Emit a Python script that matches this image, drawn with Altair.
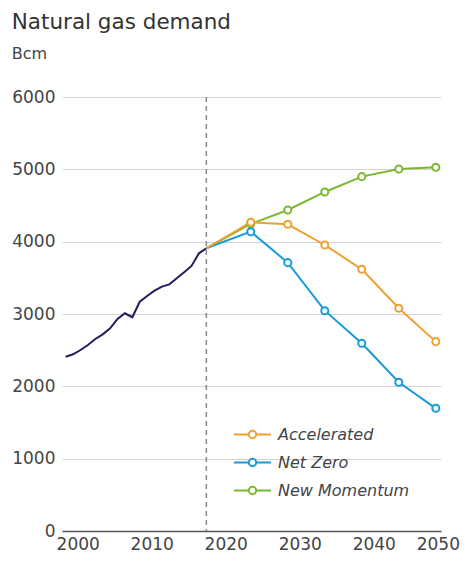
import altair as alt
import pandas as pd

# ---- data ----
hist_years = list(range(2000, 2020))
hist_values = [2410, 2443, 2502, 2571, 2654, 2719, 2802, 2931, 3010, 2955,
               3170, 3249, 3323, 3378, 3410, 3493, 3576, 3664, 3839, 3909]

scen_years = [2019, 2025, 2030, 2035, 2040, 2045, 2050]
accelerated = [3909, 4268, 4240, 3954, 3618, 3079, 2618]
net_zero = [3909, 4138, 3710, 3046, 2595, 2056, 1696]
new_momentum = [3909, 4245, 4438, 4687, 4899, 5005, 5028]

scenario_names = ["Accelerated", "Net Zero", "New Momentum"]
scenario_colors = ["#F0A030", "#1A9ADB", "#7CB82F"]
base_year = [2019]
x_ticks = [2000, 2010, 2020, 2030, 2040, 2050]
y_ticks = [0, 1000, 2000, 3000, 4000, 5000, 6000]

hist = pd.DataFrame({"year": hist_years, "value": hist_values})
rows = []
for name, vals in [("New Momentum", new_momentum), ("Net Zero", net_zero), ("Accelerated", accelerated)]:
    for y, v in zip(scen_years, vals):
        rows.append({"year": y, "value": v, "scenario": name})
scen = pd.DataFrame(rows)
pts = scen[scen["year"] >= 2025]
base = pd.DataFrame({"year": base_year})

FONT = "DejaVu Sans"

x_scale = alt.Scale(domain=[1999.5, 2050.7], nice=False, zero=False)
y_scale = alt.Scale(domain=[0, 6000], nice=False)
color_scale = alt.Scale(domain=scenario_names, range=scenario_colors)

x_axis = alt.Axis(values=x_ticks, format="d", title=None, ticks=False, grid=False,
                  domain=True, domainColor="#555555", domainWidth=1.5,
                  labelFontSize=17, labelColor="#444444", labelFont=FONT,
                  labelOffset=alt.expr("datum.value == 2050 ? 2 : 12"),
                  labelPadding=5, labelFlush=False)
y_axis = alt.Axis(values=y_ticks, format="d", title=None, ticks=False, domain=False,
                  grid=True, gridColor="#d3d3d3", gridWidth=1,
                  labelFontSize=17, labelColor="#444444", labelFont=FONT,
                  labelPadding=7)

hist_line = alt.Chart(hist).mark_line(color="#201D5E", strokeWidth=2).encode(
    x=alt.X("year:Q", scale=x_scale, axis=x_axis),
    y=alt.Y("value:Q", scale=y_scale, axis=y_axis),
)

rule = alt.Chart(base).mark_rule(color="#888888", strokeWidth=1.5, strokeDash=[5, 4]).encode(
    x=alt.X("year:Q", scale=x_scale),
)

legend = alt.Legend(
    title=None, orient="none", legendX=171, legendY=318,
    symbolType="M-1,0H-0.2M0.2,0H1M-0.2,0A0.2,0.2,0,1,1,0.2,0A0.2,0.2,0,1,1,-0.2,0Z",
    symbolSize=1369, symbolStrokeWidth=2, symbolFillColor="white",
    labelFont=FONT, labelFontSize=16, labelFontStyle="italic", labelColor="#444444",
    labelOffset=6, rowPadding=0,
)

scen_lines = alt.Chart(scen).mark_line(strokeWidth=2).encode(
    x=alt.X("year:Q", scale=x_scale),
    y=alt.Y("value:Q", scale=y_scale),
    color=alt.Color("scenario:N", scale=color_scale, sort=scenario_names, legend=legend),
    detail="scenario:N",
)

scen_pts = alt.Chart(pts).mark_point(filled=True, fill="white", size=50, strokeWidth=2, opacity=1).encode(
    x=alt.X("year:Q", scale=x_scale),
    y=alt.Y("value:Q", scale=y_scale),
    stroke=alt.Stroke("scenario:N", scale=color_scale, legend=None),
)

chart = alt.layer(rule, hist_line, scen_lines, scen_pts).properties(
    width=379, height=434,
    autosize=alt.AutoSizeParams(type="none"),
    padding={"left": 54, "top": 89, "right": 19, "bottom": 22},
    title=alt.TitleParams(
        text="Natural gas demand", subtitle="Bcm",
        anchor="start", frame="bounds", font=FONT, fontSize=21.5, fontWeight="normal",
        color="#333333", subtitleFont=FONT, subtitleFontSize=16, subtitleColor="#444444",
        subtitlePadding=12, offset=26.5,
    ),
).configure_view(stroke=None)

chart.save("out.html", embed_options={"renderer": "svg", "actions": False})
